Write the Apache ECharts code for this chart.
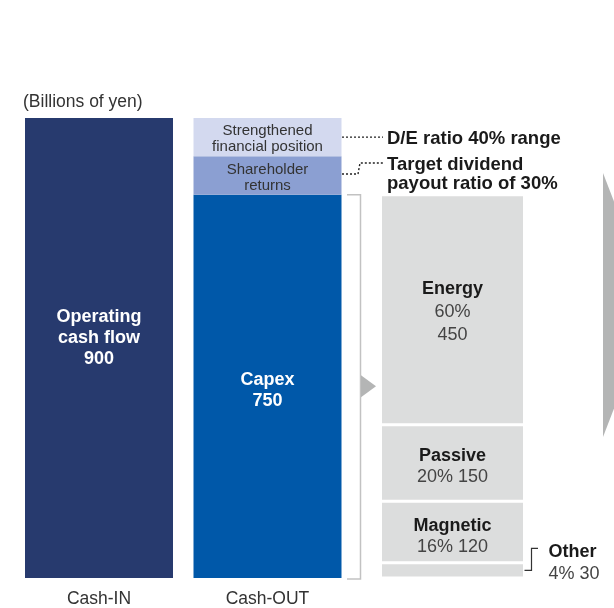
<!DOCTYPE html>
<html><head><meta charset="utf-8">
<script src="https://cdn.jsdelivr.net/npm/echarts@6/dist/echarts.min.js"></script>
<style>html,body{margin:0;padding:0;background:#fff}#c{width:614px;height:608px}</style>
</head><body><div id="c"></div>
<script>
const cashCategories = ['Cash-IN', 'Cash-OUT'];
const operatingCashFlow = [900, '-'];
const capex = ['-', 750];
const shareholderReturns = ['-', 75];
const strengthened = ['-', 75];
const segNames = ['Other', 'Magnetic', 'Passive', 'Energy'];
const segValues = [30, 120, 150, 450];
const segShares = ['4%', '16%', '20%', '60%'];
const unitLabel = '(Billions of yen)';
const deLabel = 'D/E ratio 40% range';
const dividendLabel = 'Target dividend\npayout ratio of 30%';

const FONT = '"Liberation Sans", Arial, Helvetica, sans-serif';
const chart = echarts.init(document.getElementById('c'), null, {renderer: 'canvas'});

const yMax = 900;
const B = {fontFamily: FONT, fontWeight: 'bold', fontSize: 18, color: '#1a1a1a'};
const N = {fontFamily: FONT, fontSize: 18, color: '#444'};
const segSeries = segNames.map((n, i) => {
  let label;
  if (n === 'Energy') {
    label = {show: true, position: 'inside', offset: [0, 2], formatter: '{b|' + n + '}\n{n|' + segShares[i] + '}\n{n|' + segValues[i] + '}',
      rich: {b: Object.assign({lineHeight: 23}, B), n: Object.assign({lineHeight: 23}, N)}};
  } else if (n === 'Other') {
    label = {show: true, position: 'right', distance: 24, offset: [0, -7], align: 'left',
      formatter: '{b|' + n + '}\n{n|' + segShares[i] + ' ' + segValues[i] + '}',
      rich: {b: Object.assign({lineHeight: 22}, B), n: Object.assign({lineHeight: 22}, N)}};
  } else {
    label = {show: true, position: 'inside', offset: [0, n === 'Magnetic' ? 5 : 4], formatter: '{b|' + n + '}\n{n|' + segShares[i] + ' ' + segValues[i] + '}',
      rich: {b: Object.assign({lineHeight: 21}, B), n: Object.assign({lineHeight: 21}, N)}};
  }
  return {name: n, type: 'bar', xAxisIndex: 1, yAxisIndex: 1, stack: 'seg', data: [segValues[i]],
    barWidth: 144, itemStyle: {color: '#dcdddd', borderColor: '#fff', borderWidth: 1.5}, label: label};
});

const option = {
  animation: false,
  backgroundColor: '#fff',
  grid: [
    {left: 14.75, width: 337, top: 118, bottom: 30},
    {left: 380.5, width: 144, top: 118, bottom: 30}
  ],
  xAxis: [
    {type: 'category', gridIndex: 0, data: cashCategories, axisLine: {show: false}, axisTick: {show: false},
     axisLabel: {margin: 12, fontFamily: FONT, fontSize: 17.5, color: '#333'}},
    {type: 'category', gridIndex: 1, data: [''], axisLine: {show: false}, axisTick: {show: false}, axisLabel: {show: false}}
  ],
  yAxis: [
    {type: 'value', gridIndex: 0, min: 0, max: yMax, show: false, splitLine: {show: false}},
    {type: 'value', gridIndex: 1, min: 0, max: yMax, show: false, splitLine: {show: false}}
  ],
  series: [
    {name: 'Operating cash flow', type: 'bar', stack: 'a', data: operatingCashFlow, barWidth: 148,
     itemStyle: {color: '#273a6e'},
     label: {show: true, position: 'inside', offset: [0, -10], formatter: 'Operating\ncash flow\n{c}',
       fontFamily: FONT, fontWeight: 'bold', fontSize: 18, lineHeight: 21, color: '#fff'}},
    {name: 'Capex', type: 'bar', stack: 'a', data: capex, barWidth: 148, itemStyle: {color: '#0058a9'},
     label: {show: true, position: 'inside', offset: [0, 4], formatter: 'Capex\n{c}',
       fontFamily: FONT, fontWeight: 'bold', fontSize: 18, lineHeight: 21, color: '#fff'}},
    {name: 'Shareholder returns', type: 'bar', stack: 'a', data: shareholderReturns, barWidth: 148, itemStyle: {color: '#8b9fd2'},
     label: {show: true, position: 'inside', offset: [0, 2], formatter: 'Shareholder\nreturns',
       fontFamily: FONT, fontSize: 15, lineHeight: 16, color: '#333'}},
    {name: 'Strengthened financial position', type: 'bar', stack: 'a', data: strengthened, barWidth: 148, itemStyle: {color: '#d3d9ef'},
     label: {show: true, position: 'inside', offset: [0, 2], formatter: 'Strengthened\nfinancial position',
       fontFamily: FONT, fontSize: 15, lineHeight: 16, color: '#333'}}
  ].concat(segSeries)
};
chart.setOption(option);

// annotations derived from axis scales
const px = (g, x, y) => chart.convertToPixel({xAxisIndex: g, yAxisIndex: g}, [x, y]);
const yCapTop = px(0, 1, capex[1])[1];
const yBase = px(0, 1, 0)[1];
const yShMid = px(0, 1, capex[1] + shareholderReturns[1] / 2)[1] - 1.5;
const yStMid = px(0, 1, capex[1] + shareholderReturns[1] + strengthened[1] / 2)[1];
const xOutRight = px(0, 1, 0)[0] + 74.5;
const xSegLeft = 382, xSegRight = 523;
const yOtherMid = px(1, 0, segValues[0] / 2)[1];
const capMid = (yCapTop + yBase) / 2;
const dash = {stroke: '#222', lineWidth: 1.4, lineDash: [2, 2], fill: null};

chart.setOption({graphic: [
  {type: 'text', left: 23, top: 93, style: {text: unitLabel, font: '17.5px ' + FONT, fill: '#333'}},
  {type: 'polyline', shape: {points: [[xOutRight, yStMid], [xSegLeft + 1, yStMid]]}, style: dash},
  {type: 'polyline', shape: {points: [[xOutRight, yShMid], [358, yShMid], [360, yShMid - 11], [xSegLeft + 1, yShMid - 11]]}, style: dash},
  {type: 'text', x: 387, y: yStMid + 2, style: {text: deLabel, font: 'bold 18.5px ' + FONT, fill: '#1a1a1a', verticalAlign: 'middle'}},
  {type: 'text', x: 387, y: yShMid - 11 - 8, style: {text: dividendLabel, font: 'bold 18.5px ' + FONT, fill: '#1a1a1a', lineHeight: 19.5}},
  {type: 'polyline', shape: {points: [[347, yCapTop], [360.5, yCapTop], [360.5, yBase + 1], [347, yBase + 1]]},
   style: {stroke: '#c2c2c2', lineWidth: 1.5, fill: null}},
  {type: 'polygon', shape: {points: [[361, capMid - 11], [376, capMid], [361, capMid + 11]]}, style: {fill: '#b4b5b5'}},
  {type: 'polyline', shape: {points: [[xSegRight, yOtherMid], [531.5, yOtherMid], [531.5, yOtherMid - 22], [538, yOtherMid - 22]]},
   style: {stroke: '#333', lineWidth: 1.2, fill: null}},
  {type: 'polygon', shape: {points: [[603, 173], [654, 305], [603, 437]]}, style: {fill: '#b4b5b5'}}
]});
</script></body></html>
